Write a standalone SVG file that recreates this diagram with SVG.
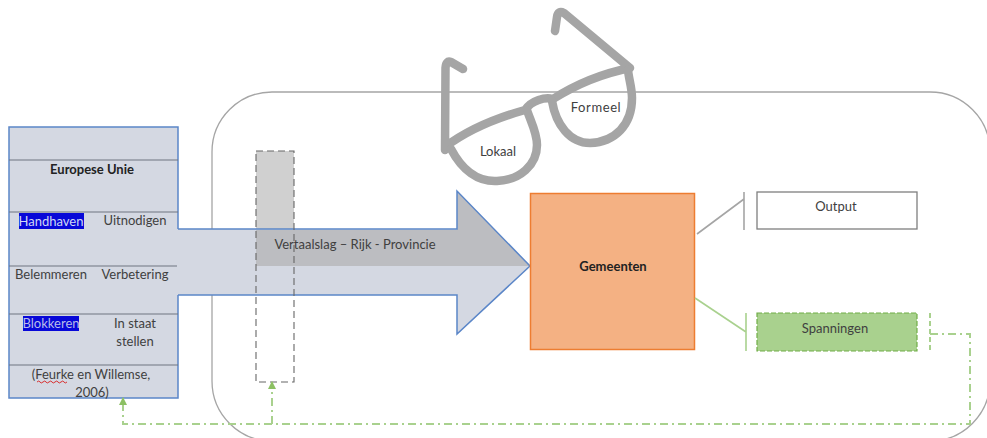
<svg xmlns="http://www.w3.org/2000/svg" width="987" height="438" viewBox="0 0 987 438">
<style>
text{font-family:"Lato","Carlito","Open Sans","Liberation Sans",sans-serif;font-size:13px;fill:#404040;text-anchor:middle}
.b{font-weight:bold;fill:#222}
.row{stroke:#6f7480;stroke-width:1.2;fill:none}
.gd{fill:none;stroke:#a9d18e;stroke-width:2;stroke-dasharray:8 4 2 4}
.hl{fill:#0808d8}
.glass{fill:none;stroke:#a5a5a5;stroke-width:8.500;stroke-linecap:round;stroke-linejoin:round}
</style>
<defs>
<marker id="ga" markerWidth="9" markerHeight="8" refX="7" refY="4" orient="auto" markerUnits="userSpaceOnUse"><path d="M0 0L8 4L0 8Z" fill="#8cc063"/></marker>
</defs>
<rect width="987" height="438" fill="#fff"/>
<g id="frame"><rect x="212" y="92" width="778" height="349" rx="60" ry="60" fill="none" stroke="#a5a5a5" stroke-width="1.3"/></g>
<g id="vertaalslag-column"><rect x="256" y="151" width="38" height="79" fill="#d0d0d0"/></g>
<g id="europese-unie">
<rect x="9" y="127" width="169" height="271" fill="#d4d8e2" stroke="#5b86c8" stroke-width="1.500"/>
<path class="row" d="M9 160H178M9 212H178M9 266H177M9 314H178M9 365H178"/>
<rect class="hl" x="19" y="213" width="65" height="16"/>
<rect class="hl" x="23" y="316" width="56" height="15"/>
<text class="b" x="92" y="174">Europese Unie</text>
<text x="51" y="226" style="fill:#d0d6f4">Handhaven</text>
<text x="135" y="225">Uitnodigen</text>
<text x="51" y="279">Belemmeren</text>
<text x="135" y="279">Verbetering</text>
<text x="51" y="328" style="fill:#b8bee8">Blokkeren</text>
<text x="135" y="328">In staat</text>
<text x="135" y="346">stellen</text>
<text x="91" y="379">(Feurke en Willemse,</text>
<text x="92" y="397">2006)</text>
<path d="M37 382q2-2 3 0t3 0t3 0t3 0t3 0t3 0t3 0t3 0t3 0t3 0" fill="none" stroke="#d83030" stroke-width="1"/>
</g>
<g id="vertaalslag">
<path d="M177 229H457V191L530 266L457 334V295H177Z" fill="#d4d8e2"/>
<path d="M256 230H457V191L530 266H256Z" fill="#bcbdc1"/>
<path d="M178 229H457V191L530 266L457 334V295H178" fill="none" stroke="#5b86c8" stroke-width="1.500"/>
<rect x="256" y="151" width="38" height="231" fill="none" stroke="#666" stroke-width="1.100" stroke-dasharray="7 4"/>
<text x="355" y="249">Vertaalslag – Rijk - Provincie</text>
</g>
<g id="bril">
<path class="glass" d="M463 69L451 62Q446 60 445.500 68L445 150M445 147C470 128 500 117 525 110C532 100 545 97 553 99C575 85 600 74 630 68L564 13Q558 10 557 17L555 31"/>
<path class="glass" d="M451 149C462 170 478 182 497 181C520 180 537 165 537 145C537 132 530 120 527 110"/>
<path class="glass" d="M552 101C556 125 570 143 590 143C615 142 632 125 632 98C632 88 629 80 628 70"/>
<text x="498" y="156">Lokaal</text>
<text x="596" y="112" style="letter-spacing:.6px">Formeel</text>
</g>
<g id="gemeenten">
<rect x="530.500" y="193.500" width="164" height="156" fill="#f4b183" stroke="#ed7d31" stroke-width="1.500"/>
<text class="b" x="613" y="271">Gemeenten</text>
</g>
<g id="output">
<rect x="757" y="192" width="160" height="37" fill="#fff" stroke="#7f7f7f" stroke-width="1.300"/>
<text x="836" y="211">Output</text>
</g>
<g id="spanningen">
<rect x="757" y="313" width="160" height="38" fill="#a9d18e" stroke="#70ad47" stroke-width="1.200" stroke-dasharray="5 2"/>
<text x="835" y="333">Spanningen</text>
</g>
<g id="connectors">
<path d="M697 234L744 199M744 192V230" fill="none" stroke="#a5a5a5" stroke-width="1.600"/>
<path d="M695 298L746 332M746 313V351" fill="none" stroke="#a9d18e" stroke-width="1.600"/>
<path d="M930 313V351" class="gd" style="stroke-dasharray:5 3"/>
<path d="M930 334H970V424H123V398" class="gd" marker-end="url(#ga)"/>
<path d="M272 424V382" class="gd" marker-end="url(#ga)"/>
</g>
</svg>
